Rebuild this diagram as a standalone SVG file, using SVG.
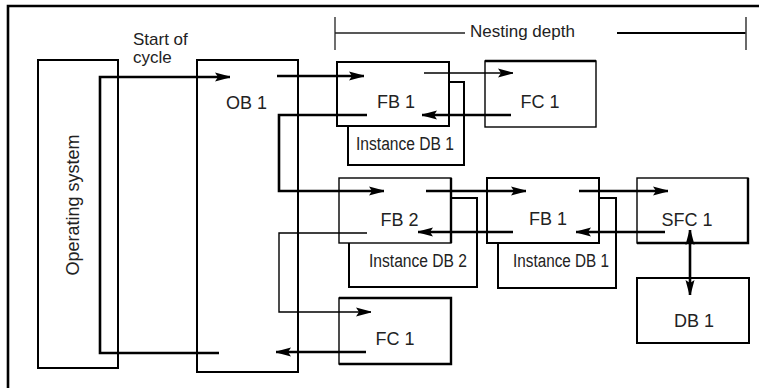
<svg xmlns="http://www.w3.org/2000/svg" width="759" height="388" viewBox="0 0 759 388">
<style>
.box{fill:#fff;stroke:#000;stroke-width:2}
.thin{fill:#fff;stroke:#000;stroke-width:1.4}
.lbl{font-family:"Liberation Sans",Arial,sans-serif;font-size:18px;fill:#222}
.sm{font-family:"Liberation Sans",Arial,sans-serif;font-size:17px;fill:#222}
.c{fill:none;stroke:#000;stroke-width:2.6}
.ct{fill:none;stroke:#000;stroke-width:1.4}
.dim{fill:none;stroke:#222;stroke-width:1.3}
</style>
<defs>
<marker id="ah" markerUnits="userSpaceOnUse" markerWidth="16" markerHeight="11" refX="15" refY="5.5" orient="auto-start-reverse" viewBox="0 0 16 11">
<path d="M0,1 L15,5 L15,6 L0,10 L3,5.5 z" fill="#000"/>
</marker>
</defs>
<rect width="759" height="388" fill="#fff"/>
<path d="M8,388 V6 H759" fill="none" stroke="#000" stroke-width="2.6"/>

<g id="annotations">
<text class="sm" x="133" y="45">Start of</text>
<text class="sm" x="133" y="63">cycle</text>
<path class="dim" d="M335,17 V50 M335,33 H465"/>
<text class="sm" x="470" y="37" font-size="16.5">Nesting depth</text>
<path d="M617,33 H746" fill="none" stroke="#000" stroke-width="2"/>
<path d="M746,17 V50" fill="none" stroke="#444" stroke-width="1.6"/>
</g>

<g id="os">
<rect class="box" x="38" y="60" width="80" height="308"/>
<text class="lbl" font-size="19.5" text-anchor="middle" transform="translate(79,205) rotate(-90)">Operating system</text>
</g>
<g id="ob1">
<rect class="box" x="197" y="60" width="101" height="312"/>
<text class="lbl" x="246.5" y="109" text-anchor="middle">OB 1</text>
</g>
<g id="idb1a">
<rect class="box" x="348" y="82" width="116" height="83"/>
<text class="lbl" x="356" y="150" textLength="98" lengthAdjust="spacingAndGlyphs">Instance DB 1</text>
</g>
<g id="fb1a">
<rect class="box" x="337" y="62" width="112" height="64"/>
<text class="lbl" x="396" y="108" text-anchor="middle">FB 1</text>
</g>
<g id="fc1a">
<rect class="thin" x="485" y="61" width="111" height="66"/>
<path d="M485,61 H596" stroke="#000" stroke-width="2.4"/>
<text class="lbl" x="540" y="108" text-anchor="middle">FC 1</text>
</g>
<g id="idb2">
<rect class="box" x="349" y="198" width="128" height="89"/>
<text class="lbl" x="369" y="267" textLength="98" lengthAdjust="spacingAndGlyphs">Instance DB 2</text>
</g>
<g id="fb2">
<rect class="thin" x="339" y="178" width="112" height="65"/>
<path d="M451,178 V243" stroke="#000" stroke-width="2.4"/>
<text class="lbl" x="399.5" y="226" text-anchor="middle">FB 2</text>
</g>
<g id="idb1b">
<rect class="box" x="498" y="198" width="118" height="90"/>
<text class="lbl" x="513" y="267" textLength="96" lengthAdjust="spacingAndGlyphs">Instance DB 1</text>
</g>
<g id="fb1b">
<rect class="box" x="487" y="178" width="112" height="65"/>
<text class="lbl" x="548" y="225" text-anchor="middle">FB 1</text>
</g>
<g id="sfc1">
<rect class="thin" x="637" y="178" width="111" height="65"/>
<path d="M748,178 V243 H637" fill="none" stroke="#000" stroke-width="2.4"/>
<text class="lbl" x="687" y="226" text-anchor="middle">SFC 1</text>
</g>
<g id="db1">
<rect class="box" x="637" y="278" width="112" height="65"/>
<text class="lbl" x="694" y="327" text-anchor="middle">DB 1</text>
</g>
<g id="fc1b">
<rect class="thin" x="339" y="298" width="112" height="66"/>
<path d="M339,298 H451 V364 H339" fill="none" stroke="#000" stroke-width="2.4"/>
<text class="lbl" x="395" y="345" text-anchor="middle">FC 1</text>
</g>

<g id="connectors">
<path class="c" d="M219,353 H100 V77 H230" marker-end="url(#ah)"/>
<path class="c" d="M277,76 H364" marker-end="url(#ah)"/>
<path class="ct" d="M424,73 H513" marker-end="url(#ah)"/>
<path class="c" d="M511,115 H422" marker-end="url(#ah)"/>
<path class="c" d="M367,115 H279 V191 H384" marker-end="url(#ah)"/>
<path class="c" d="M426,191 H526" marker-end="url(#ah)"/>
<path class="c" d="M513,232 H418" marker-end="url(#ah)"/>
<path class="c" d="M579,191 H668" marker-end="url(#ah)"/>
<path class="c" d="M665,232 H576" marker-end="url(#ah)"/>
<path class="c" d="M690,230 V295" stroke-width="3" marker-start="url(#ah)" marker-end="url(#ah)"/>
<path class="ct" d="M367,233 H279 V312 H371" marker-end="url(#ah)"/>
<path class="c" d="M366,352 H276" marker-end="url(#ah)"/>
</g>
</svg>
